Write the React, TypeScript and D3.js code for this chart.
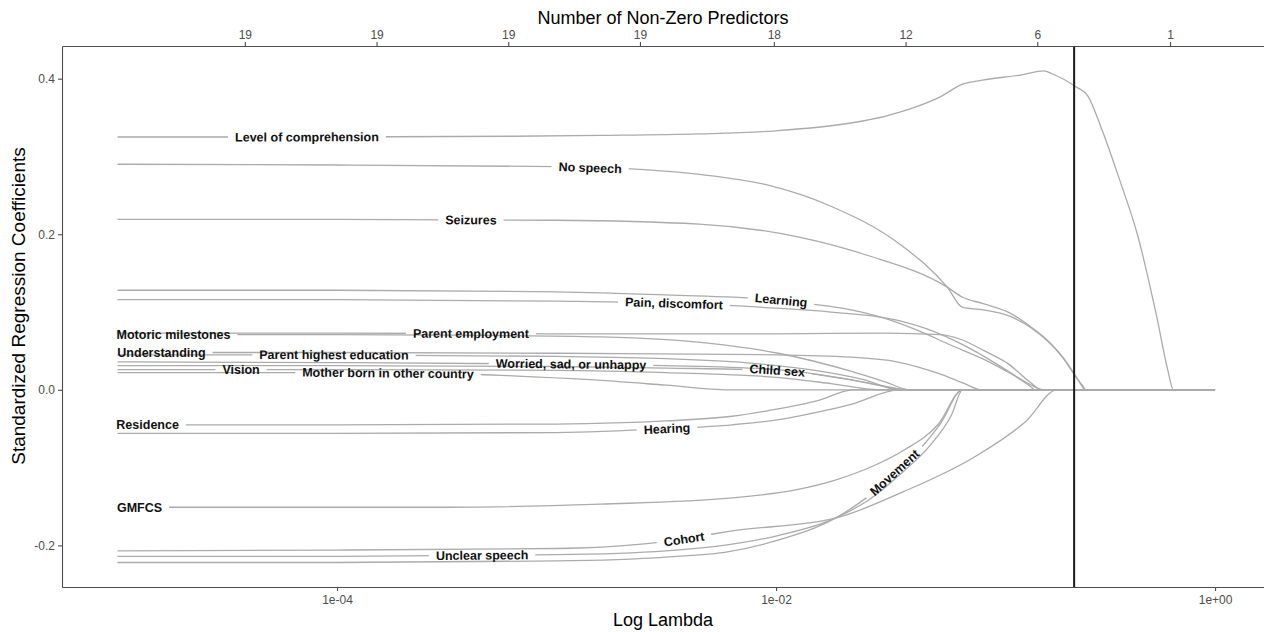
import { useEffect, useRef } from "react";
import * as d3 from "d3";

type Pt = [number, number];

const W = 1264;
const H = 632;

const predictorNames = [
  "Level of comprehension", "No speech", "Seizures", "Learning", "Pain, discomfort",
  "Parent employment", "Motoric milestones", "Understanding", "Parent highest education",
  "Worried, sad, or unhappy", "Child sex", "Vision", "Mother born in other country",
  "Residence", "Hearing", "GMFCS", "Cohort", "Unclear speech", "Movement",
];

// coefficient paths: [log10(lambda), standardized coefficient]
const levelOfComprehension: Pt[] = [[-5, 0.325], [-4, 0.325], [-3.2, 0.326], [-2.8, 0.327], [-2.35, 0.329], [-2.0, 0.333], [-1.66, 0.343], [-1.5, 0.352], [-1.36, 0.364], [-1.25, 0.377], [-1.15, 0.393], [-1.06, 0.398], [-0.88, 0.405], [-0.78, 0.41], [-0.74, 0.406], [-0.63, 0.389], [-0.58, 0.378], [-0.52, 0.338], [-0.43, 0.266], [-0.355, 0.201], [-0.265, 0.093], [-0.215, 0.025], [-0.19, 0], [0, 0]];
const noSpeech: Pt[] = [[-5, 0.29], [-4, 0.289], [-3, 0.287], [-2.6, 0.283], [-2.35, 0.277], [-2.05, 0.264], [-1.75, 0.236], [-1.44, 0.188], [-1.22, 0.132], [-1.15, 0.106], [-1.06, 0.103], [-0.93, 0.094], [-0.84, 0.08], [-0.75, 0.059], [-0.675, 0.034], [-0.645, 0.021], [-0.6, 0.004], [-0.59, 0], [0, 0]];
const seizures: Pt[] = [[-5, 0.219], [-4, 0.219], [-3, 0.218], [-2.35, 0.213], [-1.89, 0.196], [-1.585, 0.173], [-1.22, 0.132], [-1.15, 0.119], [-1.06, 0.111], [-0.93, 0.098], [-0.84, 0.081], [-0.75, 0.06], [-0.675, 0.035], [-0.645, 0.022], [-0.6, 0.002], [-0.595, 0], [0, 0]];
const learning: Pt[] = [[-5, 0.128], [-4, 0.128], [-3, 0.126], [-2.5, 0.122], [-2.0, 0.116], [-1.89, 0.112], [-1.7, 0.105], [-1.53, 0.094], [-1.36, 0.077], [-1.2, 0.057], [-1.06, 0.04], [-0.9, 0.016], [-0.83, 0.005], [-0.78, 0], [0, 0]];
const painDiscomfort: Pt[] = [[-5, 0.116], [-4, 0.116], [-3, 0.114], [-2.45, 0.111], [-2.0, 0.105], [-1.75, 0.1], [-1.44, 0.089], [-1.3, 0.077], [-1.15, 0.058], [-1.0, 0.034], [-0.9, 0.016], [-0.84, 0.004], [-0.82, 0], [0, 0]];
const parentEmployment: Pt[] = [[-5, 0.073], [-4, 0.073], [-3, 0.072], [-2.0, 0.072], [-1.5, 0.073], [-1.25, 0.071], [-1.16, 0.065], [-1.05, 0.05], [-0.94, 0.033], [-0.835, 0.008], [-0.79, 0], [0, 0]];
const motoricMilestones: Pt[] = [[-5, 0.071], [-4, 0.071], [-3.3, 0.07], [-2.8, 0.068], [-2.31, 0.06], [-1.99, 0.047], [-1.66, 0.024], [-1.5, 0.01], [-1.39, 0], [0, 0]];
const understanding: Pt[] = [[-5, 0.048], [-4, 0.048], [-3, 0.047], [-2.0, 0.045], [-1.66, 0.042], [-1.45, 0.036], [-1.26, 0.021], [-1.15, 0.009], [-1.06, 0], [0, 0]];
const parentEducation: Pt[] = [[-5, 0.045], [-4, 0.045], [-3, 0.043], [-2.5, 0.04], [-2.1, 0.034], [-1.8, 0.024], [-1.6, 0.013], [-1.44, 0], [0, 0]];
const worriedSad: Pt[] = [[-5, 0.036], [-4, 0.035], [-2.93, 0.033], [-2.5, 0.031], [-2.0, 0.026], [-1.7, 0.015], [-1.5, 0.004], [-1.42, 0], [0, 0]];
const childSex: Pt[] = [[-5, 0.031], [-4, 0.031], [-3, 0.03], [-2.5, 0.028], [-2.0, 0.025], [-1.8, 0.019], [-1.6, 0.01], [-1.385, 0], [0, 0]];
const vision: Pt[] = [[-5, 0.026], [-4, 0.026], [-3, 0.025], [-2.5, 0.022], [-2.0, 0.016], [-1.75, 0.008], [-1.53, 0], [0, 0]];
const motherBorn: Pt[] = [[-5, 0.022], [-4, 0.022], [-3.5, 0.021], [-3.2, 0.018], [-2.85, 0.013], [-2.5, 0.006], [-2.215, 0], [0, 0]];
const residence: Pt[] = [[-5, -0.045], [-4, -0.045], [-3, -0.044], [-2.5, -0.04], [-2.2, -0.034], [-2.04, -0.027], [-1.81, -0.014], [-1.65, 0], [0, 0]];
const hearing: Pt[] = [[-5, -0.056], [-4, -0.056], [-3, -0.055], [-2.5, -0.05], [-2.2, -0.045], [-1.98, -0.038], [-1.8, -0.028], [-1.65, -0.018], [-1.44, 0], [0, 0]];
const gmfcs: Pt[] = [[-5, -0.151], [-3.5, -0.151], [-2.8, -0.147], [-2.2, -0.139], [-1.9, -0.128], [-1.73, -0.116], [-1.55, -0.097], [-1.42, -0.078], [-1.26, -0.044], [-1.15, 0], [0, 0]];
const cohort: Pt[] = [[-5, -0.207], [-4, -0.206], [-3, -0.204], [-2.6, -0.198], [-2.42, -0.192], [-2.3, -0.186], [-2.215, -0.182], [-1.73, -0.165], [-1.42, -0.131], [-1.1, -0.087], [-0.86, -0.04], [-0.72, 0], [0, 0]];
const unclearSpeech: Pt[] = [[-5, -0.214], [-4, -0.214], [-3, -0.212], [-2.5, -0.207], [-2.215, -0.199], [-2.0, -0.188], [-1.73, -0.165], [-1.58, -0.142], [-1.42, -0.105], [-1.3, -0.072], [-1.2, -0.032], [-1.15, 0], [0, 0]];
const movement: Pt[] = [[-5, -0.222], [-4, -0.222], [-3, -0.22], [-2.5, -0.215], [-2.215, -0.208], [-2.0, -0.194], [-1.73, -0.165], [-1.58, -0.137], [-1.35, -0.078], [-1.25, -0.043], [-1.15, 0], [0, 0]];

const coefPaths = [
  levelOfComprehension, noSpeech, seizures, learning, painDiscomfort,
  parentEmployment, motoricMilestones, understanding, parentEducation,
  worriedSad, childSex, vision, motherBorn,
  residence, hearing, gmfcs, cohort, unclearSpeech, movement,
];

// log10(lambda) where each label sits on its own path
const labelAt = [-4.137, -2.847, -3.39, -1.977, -2.465, -3.39, -4.745, -4.8, -4.014, -2.934, -1.995, -4.437, -3.768, -4.863, -2.497, -4.9, -2.419, -3.339, -1.46];

const xTicks = [1e-4, 1e-2, 1];
const xTickLabels = ["1e-04", "1e-02", "1e+00"];
const yTicks = [-0.2, 0, 0.2, 0.4];
const topTickLog = [-4.42, -3.82, -3.22, -2.62, -2.01, -1.41, -0.81, -0.205];
const nonZeroCounts = [19, 19, 19, 19, 18, 12, 6, 1];
const chosenLogLambda = -0.642;

const FONT = "'Liberation Sans', Arial, Helvetica, sans-serif";

export default function App() {
  const svgRef = useRef<SVGSVGElement>(null);

  useEffect(() => {
    const left = 62, right = 1264, top = 46, bottom = 587;

    const x = d3.scaleLog().domain([10 ** -5.253, 10 ** 0.223]).range([left, right]);
    const y = d3.scaleLinear().domain([-0.2535, 0.442]).range([bottom, top]);

    const svg = d3.select(svgRef.current).html(null);
    const defs = svg.append("defs");

    const line = d3.line<Pt>()
      .x(d => x(10 ** d[0]))
      .y(d => y(d[1]))
      .curve(d3.curveMonotoneX);

    // pixel y of a path at pixel x (linear between points)
    const yAt = (pts: Pt[], px: number) => {
      const xs = pts.map(p => x(10 ** p[0]));
      if (px <= xs[0]) return y(pts[0][1]);
      for (let k = 1; k < xs.length; k++) {
        if (px <= xs[k]) {
          const t = (px - xs[k - 1]) / (xs[k] - xs[k - 1]);
          return y(pts[k - 1][1] + t * (pts[k][1] - pts[k - 1][1]));
        }
      }
      return y(pts[pts.length - 1][1]);
    };

    const gLines = svg.append("g");
    const vline = svg.append("g");
    const gLabels = svg.append("g");

    coefPaths.forEach((pts, i) => {
      const txt = gLabels.append("text")
        .attr("text-anchor", "middle")
        .attr("dy", "0.35em")
        .style("font-family", FONT)
        .style("font-size", "12.5px")
        .style("font-weight", "bold")
        .attr("fill", "#111")
        .text(predictorNames[i]);
      const tw = (txt.node() as SVGTextElement).getComputedTextLength();

      const cx = x(10 ** labelAt[i]);
      const cy = yAt(pts, cx);
      let ang = 0;
      for (let it = 0; it < 3; it++) {
        const half = (tw / 2) * Math.cos(ang);
        const y1 = yAt(pts, cx - half);
        const y2 = yAt(pts, cx + half);
        ang = Math.atan2(y2 - y1, 2 * half);
      }
      const deg = (ang * 180) / Math.PI;
      txt.attr("transform", `translate(${cx},${cy}) rotate(${deg})`);

      const mask = defs.append("mask")
        .attr("id", `gap-${i}`)
        .attr("maskUnits", "userSpaceOnUse")
        .attr("x", 0).attr("y", 0).attr("width", W).attr("height", H);
      mask.append("rect").attr("x", 0).attr("y", 0).attr("width", W).attr("height", H).attr("fill", "white");
      const pad = 7;
      mask.append("rect")
        .attr("x", -tw / 2 - pad).attr("y", -8)
        .attr("width", tw + 2 * pad).attr("height", 16)
        .attr("fill", "black")
        .attr("transform", `translate(${cx},${cy}) rotate(${deg})`);

      gLines.append("path")
        .attr("d", line(pts))
        .attr("fill", "none")
        .attr("stroke", "#ababab")
        .attr("stroke-width", 1.3)
        .attr("mask", `url(#gap-${i})`);
    });

    // selected lambda
    vline.append("line")
      .attr("x1", x(10 ** chosenLogLambda)).attr("x2", x(10 ** chosenLogLambda))
      .attr("y1", top).attr("y2", bottom)
      .attr("stroke", "#1a1a1a")
      .attr("stroke-width", 2);

    const styleAxis = (g: d3.Selection<SVGGElement, unknown, null, undefined>) => {
      g.select(".domain").attr("stroke", "#4d4d4d").attr("stroke-width", 1.1);
      g.selectAll(".tick line").attr("stroke", "#4d4d4d").attr("stroke-width", 1.1);
      g.selectAll(".tick text")
        .attr("fill", "#4d4d4d")
        .style("font-family", FONT)
        .style("font-size", "12px");
    };

    svg.append("g")
      .attr("transform", `translate(${left},0)`)
      .call(d3.axisLeft(y).tickValues(yTicks).tickFormat(d => (+d).toFixed(1)).tickSize(4).tickSizeOuter(0).tickPadding(3))
      .call(styleAxis);

    svg.append("g")
      .attr("transform", `translate(0,${bottom})`)
      .call(d3.axisBottom(x).tickValues(xTicks).tickFormat((_d, k) => xTickLabels[k]).tickSize(4).tickSizeOuter(0).tickPadding(4))
      .call(styleAxis);

    svg.append("g")
      .attr("transform", `translate(0,${top})`)
      .call(d3.axisTop(x).tickValues(topTickLog.map(v => 10 ** v)).tickFormat((_d, k) => String(nonZeroCounts[k])).tickSize(4).tickSizeOuter(0).tickPadding(3))
      .call(styleAxis);

    const title = (tx: number, ty: number, text: string, rot = 0, size = 18) =>
      svg.append("text")
        .attr("transform", `translate(${tx},${ty}) rotate(${rot})`)
        .attr("text-anchor", "middle")
        .attr("dy", "0.35em")
        .style("font-family", FONT)
        .style("font-size", `${size}px`)
        .attr("fill", "#000")
        .text(text);

    title((left + right) / 2, 18, "Number of Non-Zero Predictors");
    title((left + right) / 2, 620, "Log Lambda");
    title(18, 306, "Standardized Regression Coefficients", -90, 19);
  }, []);

  return (
    <svg
      ref={svgRef}
      width={W}
      height={H}
      style={{ position: "absolute", left: 0, top: 0, background: "#fff", display: "block" }}
    />
  );
}
